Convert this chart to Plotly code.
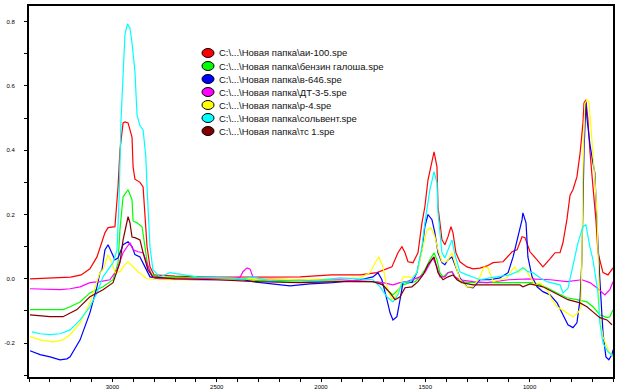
import plotly.graph_objects as go

# ---------------- data (wavenumber, cm-1  /  absorbance) ----------------
names = [
    "C:\\...\\Новая папка\\аи-100.spe",
    "C:\\...\\Новая папка\\бензин галоша.spe",
    "C:\\...\\Новая папка\\в-646.spe",
    "C:\\...\\Новая папка\\ДТ-3-5.spe",
    "C:\\...\\Новая папка\\р-4.spe",
    "C:\\...\\Новая папка\\сольвент.spe",
    "C:\\...\\Новая папка\\тс 1.spe",
]
colors = ["#FF0000", "#00FF00", "#0000FF", "#FF00FF", "#FFFF00", "#00FFFF", "#800000"]

red_wn = [3395, 3300, 3200, 3150, 3108, 3074, 3036, 3021, 2988, 2973, 2964, 2949, 2940, 2925, 2906, 2901,
          2892, 2868, 2853, 2834, 2820, 2800, 2700, 2500, 2300, 2100, 1950, 1813, 1732, 1660, 1631, 1612,
          1597, 1583, 1559, 1535, 1516, 1502, 1487, 1468, 1458, 1444, 1439, 1420, 1406, 1391, 1377, 1367,
          1353, 1334, 1300, 1271, 1238, 1204, 1175, 1127, 1084, 1060, 1036, 1022, 998, 964, 936, 902, 878,
          854, 840, 821, 806, 792, 773, 758, 744, 739, 730, 720, 711, 696, 682, 672, 648, 624, 600]
red_ab = [0.0, 0.003, 0.005, 0.012, 0.031, 0.068, 0.143, 0.159, 0.162, 0.286, 0.40, 0.485, 0.488, 0.485, 0.44, 0.348,
          0.31, 0.30, 0.286, 0.10, 0.037, 0.012, 0.008, 0.005, 0.005, 0.006, 0.012, 0.012, 0.019, 0.037, 0.081, 0.10,
          0.081, 0.053, 0.05, 0.081, 0.174, 0.224, 0.308, 0.37, 0.395, 0.348, 0.224, 0.121, 0.106, 0.131, 0.162, 0.143,
          0.081, 0.053, 0.037, 0.031, 0.033, 0.04, 0.05, 0.053, 0.084, 0.09, 0.131, 0.128, 0.084, 0.059, 0.037, 0.062, 0.081,
          0.081, 0.112, 0.184, 0.26, 0.277, 0.317, 0.39, 0.485, 0.547, 0.557, 0.495, 0.40, 0.286, 0.184, 0.081, 0.019, 0.012, 0.034]

green_wn = [3395, 3300, 3237, 3203, 3155, 3108, 3045, 2997, 2973, 2964, 2949, 2925, 2906, 2901, 2882, 2858,
            2844, 2830, 2810, 2772, 2600, 2400, 2300, 2100, 1909, 1751, 1717, 1684, 1655, 1631, 1607, 1573,
            1549, 1526, 1502, 1478, 1458, 1444, 1430, 1415, 1391, 1372, 1358, 1334, 1271, 1200, 1046, 984,
            950, 917, 868, 821, 773, 725, 696, 663, 629, 615, 600]
green_ab = [-0.096, -0.096, -0.096, -0.087, -0.072, -0.044, -0.025, -0.003, 0.05, 0.152, 0.255, 0.277, 0.246, 0.18, 0.174, 0.162,
            0.10, 0.037, 0.012, 0.005, 0.003, 0.0, -0.005, -0.006, -0.009, -0.009, -0.012, -0.034, -0.05, -0.034, -0.019, -0.012,
            -0.009, 0.006, 0.028, 0.059, 0.081, 0.059, 0.019, 0.006, 0.019, 0.022, 0.006, -0.009, -0.012, -0.012, -0.012, -0.012,
            -0.019, -0.028, -0.044, -0.059, -0.065, -0.072, -0.087, -0.112, -0.121, -0.118, -0.096]

blue_wn = [3395, 3347, 3299, 3251, 3218, 3203, 3155, 3108, 3074, 3060, 3050, 3036, 3021, 3002, 2988, 2973,
           2949, 2925, 2906, 2892, 2868, 2844, 2820, 2772, 2600, 2420, 2374, 2326, 2245, 2149, 2053, 1943,
           1813, 1751, 1727, 1708, 1684, 1669, 1655, 1636, 1621, 1607, 1583, 1564, 1540, 1516, 1502, 1487,
           1468, 1454, 1439, 1420, 1406, 1391, 1372, 1358, 1334, 1300, 1271, 1238, 1190, 1142, 1103, 1079,
           1056, 1036, 1032, 1017, 1008, 988, 964, 936, 902, 868, 840, 816, 792, 773, 758, 749, 739, 730,
           725, 711, 696, 687, 677, 672, 663, 648, 634, 620, 605, 600]
blue_ab = [-0.224, -0.236, -0.243, -0.252, -0.249, -0.243, -0.19, -0.106, -0.025, 0.019, 0.028, 0.09, 0.106, 0.081, 0.059, 0.065,
           0.106, 0.115, 0.10, 0.075, 0.068, 0.037, 0.006, 0.0, -0.003, -0.003, -0.003, -0.009, -0.016, -0.022, -0.016, -0.012,
           -0.003, 0.006, 0.019, -0.003, -0.065, -0.106, -0.128, -0.118, -0.065, -0.012, -0.009, -0.012, 0.019, 0.09, 0.162, 0.2,
           0.184, 0.143, 0.081, 0.05, 0.044, 0.059, 0.068, 0.044, 0.003, -0.025, -0.028, -0.003, -0.003, 0.003, 0.019, 0.068,
           0.13, 0.184, 0.205, 0.174, 0.068, 0.006, -0.025, -0.04, -0.05, -0.075, -0.112, -0.143, -0.152, -0.137, -0.065, 0.059, 0.40, 0.55,
           0.50, 0.42, 0.36, 0.33, 0.174, 0.10, -0.003, -0.168, -0.243, -0.252, -0.236, -0.221]

magenta_wn = [3395, 3300, 3250, 3203, 3155, 3108, 3060, 3012, 2978, 2949, 2916, 2901, 2877, 2853, 2834, 2810,
              2772, 2600, 2420, 2388, 2374, 2355, 2340, 2326, 2300, 2100, 1909, 1751, 1703, 1655, 1621, 1588,
              1559, 1526, 1502, 1478, 1463, 1444, 1430, 1406, 1391, 1372, 1358, 1334, 1271, 1204, 1100, 1000,
              900, 821, 749, 711, 677, 639, 615, 600]
magenta_ab = [-0.031, -0.034, -0.034, -0.031, -0.025, -0.012, -0.009, -0.003, 0.028, 0.081, 0.112, 0.09, 0.084, 0.081, 0.05, 0.006,
              0.0, 0.0, 0.0, 0.005, 0.022, 0.034, 0.03, 0.005, 0.0, -0.003, -0.003, -0.009, -0.012, -0.019, -0.012, -0.009,
              -0.003, 0.006, 0.019, 0.05, 0.065, 0.037, 0.006, 0.006, 0.019, 0.022, 0.006, -0.003, -0.009, -0.012, -0.003, 0.0,
              -0.003, -0.009, -0.003, -0.012, -0.028, -0.05, -0.034, -0.009]

yellow_wn = [3395, 3347, 3285, 3237, 3203, 3155, 3108, 3060, 3045, 3021, 3002, 2988, 2964, 2940, 2925, 2901,
             2877, 2858, 2834, 2786, 2600, 2400, 2300, 2100, 1909, 1813, 1765, 1741, 1722, 1703, 1684, 1660,
             1645, 1621, 1607, 1583, 1559, 1535, 1511, 1492, 1473, 1454, 1439, 1420, 1396, 1372, 1358, 1334,
             1300, 1271, 1238, 1218, 1199, 1175, 1142, 1108, 1084, 1070, 1056, 1036, 1022, 998, 974, 950,
             917, 892, 868, 845, 821, 792, 768, 754, 749, 744, 735, 725, 715, 701, 687, 677, 672, 663, 648, 624, 600]
yellow_ab = [-0.18, -0.19, -0.196, -0.19, -0.174, -0.137, -0.075, 0.019, 0.028, 0.075, 0.05, 0.019, 0.022, 0.044, 0.053, 0.037,
             0.022, 0.012, 0.0, -0.003, -0.003, 0.0, 0.0, -0.003, 0.0, 0.003, 0.019, 0.05, 0.068, 0.037, -0.025, -0.065,
             -0.056, -0.025, 0.006, 0.006, 0.003, 0.028, 0.10, 0.152, 0.159, 0.131, 0.09, 0.053, 0.053, 0.081, 0.05, -0.003,
             -0.025, -0.025, 0.006, 0.037, 0.034, -0.009, -0.003, 0.003, 0.028, 0.037, 0.019, 0.028, 0.034, 0.006, -0.019, -0.012,
             -0.034, -0.065, -0.087, -0.096, -0.106, -0.118, -0.106, -0.09, 0.06, 0.35, 0.545, 0.557, 0.55, 0.44, 0.31, 0.205, 0.059, -0.128, -0.18, -0.22, -0.243]

cyan_wn = [3386, 3347, 3299, 3251, 3203, 3155, 3108, 3074, 3045, 3012, 2997, 2978, 2968, 2959, 2949, 2940,
           2928, 2916, 2906, 2892, 2882, 2868, 2853, 2840, 2834, 2820, 2806, 2772, 2724, 2662, 2595, 2450,
           2374, 2326, 2245, 2149, 2053, 1909, 1813, 1751, 1717, 1684, 1655, 1631, 1612, 1573, 1540, 1516,
           1502, 1478, 1458, 1444, 1439, 1420, 1406, 1391, 1372, 1358, 1334, 1300, 1238, 1190, 1094, 1060,
           1032, 1008, 984, 950, 917, 854, 840, 816, 792, 768, 744, 730, 711, 696, 672, 663, 648, 624, 600]
cyan_ab = [-0.165, -0.171, -0.174, -0.171, -0.159, -0.128, -0.087, -0.044, 0.006, 0.037, 0.05, 0.09, 0.25, 0.49, 0.66, 0.76,
           0.793, 0.78, 0.734, 0.644, 0.51, 0.476, 0.463, 0.38, 0.286, 0.10, 0.028, 0.006, 0.019, 0.012, 0.006, 0.003,
           0.0, 0.006, -0.006, -0.012, -0.009, 0.003, 0.0, -0.003, -0.025, -0.056, -0.072, -0.05, -0.012, -0.009, 0.019, 0.10,
           0.174, 0.277, 0.333, 0.299, 0.205, 0.081, 0.065, 0.09, 0.121, 0.075, 0.022, 0.012, -0.003, 0.003, 0.012, 0.022,
           0.034, 0.022, 0.019, 0.003, -0.009, -0.019, -0.044, -0.03, 0.037, 0.112, 0.162, 0.168, 0.10, 0.059, -0.044, -0.137, -0.20, -0.227, -0.24]

darkred_wn = [3395, 3300, 3237, 3170, 3108, 3045, 2997, 2964, 2949, 2930, 2925, 2916, 2906, 2892, 2868, 2853,
              2830, 2806, 2700, 2500, 2300, 2100, 1909, 1751, 1703, 1669, 1645, 1621, 1597, 1564, 1535, 1511,
              1487, 1458, 1439, 1415, 1391, 1367, 1348, 1324, 1271, 1200, 1046, 1032, 998, 936, 888, 840,
              816, 758, 725, 696, 663, 629, 605]
darkred_ab = [-0.112, -0.118, -0.118, -0.096, -0.056, -0.034, -0.012, 0.05, 0.121, 0.184, 0.193, 0.174, 0.13, 0.128, 0.121, 0.081,
              0.028, 0.006, 0.0, -0.003, -0.009, -0.012, -0.009, -0.009, -0.019, -0.044, -0.065, -0.056, -0.028, -0.025, -0.009, 0.012,
              0.044, 0.068, 0.019, -0.003, 0.006, 0.012, -0.003, -0.012, -0.019, -0.019, -0.019, -0.025, -0.016, -0.025, -0.04, -0.056,
              -0.065, -0.075, -0.087, -0.103, -0.121, -0.128, -0.143]

x_tick_vals = [3000, 2500, 2000, 1500, 1000]
x_tick_text = ["3000", "2500", "2000", "1500", "1000"]
y_tick_vals = [0.8, 0.6, 0.4, 0.2, 0.0, -0.2]
y_tick_text = ["0.8", "0.6", "0.4", "0.2", "0.0", "-0.2"]

series = [(red_wn, red_ab), (green_wn, green_ab), (blue_wn, blue_ab), (magenta_wn, magenta_ab),
          (yellow_wn, yellow_ab), (cyan_wn, cyan_ab), (darkred_wn, darkred_ab)]

# ---------------- figure ----------------
W, H = 619, 391
ML, MR, MT, MB = 29, 6, 6, 14
PW, PH = W - ML - MR, H - MT - MB

fig = go.Figure()
for (wn, ab), name, col in zip(series, names, colors):
    fig.add_trace(go.Scatter(x=wn, y=ab, mode="lines", name=name,
                             line=dict(color=col, width=1.2), showlegend=False))

# hand-drawn legend (ellipse markers + text), positioned in pixels
def px2paper(px, py):
    return (px - ML) / PW, (H - MB - py) / PH

shapes, annots = [], []
for i, (name, col) in enumerate(zip(names, colors)):
    cy = 53 + 13 * i
    x0, y0 = px2paper(202, cy + 4.5)
    x1, y1 = px2paper(214, cy - 4.5)
    shapes.append(dict(type="circle", xref="paper", yref="paper", x0=x0, y0=y0, x1=x1, y1=y1,
                       fillcolor=col, line=dict(color="black", width=1)))
    tx, ty = px2paper(217, cy)
    annots.append(dict(xref="paper", yref="paper", x=tx, y=ty, xanchor="left", yanchor="middle",
                       text=name, showarrow=False, font=dict(family="Arial", size=9.5, color="#111")))

fig.update_layout(
    width=W, height=H,
    margin=dict(l=ML, r=MR, t=MT, b=MB, autoexpand=False),
    paper_bgcolor="white", plot_bgcolor="white",
    shapes=shapes, annotations=annots,
    showlegend=False,
    xaxis=dict(range=[3400, 600], showgrid=False, zeroline=False,
               showline=True, linecolor="black", linewidth=2, mirror=True,
               tickmode="array", tickvals=x_tick_vals, ticktext=x_tick_text,
               ticks="outside", ticklen=3, tickcolor="black", tickwidth=1,
               tickfont=dict(family="Arial", size=6, color="black"),
               minor=dict(tickmode="linear", tick0=0, dtick=100, ticks="outside", ticklen=3,
                          tickcolor="black", tickwidth=1)),
    yaxis=dict(range=[-0.3056, 0.8487], showgrid=False, zeroline=False,
               showline=True, linecolor="black", linewidth=2, mirror=True,
               tickmode="array", tickvals=y_tick_vals, ticktext=y_tick_text,
               ticks="outside", ticklen=3, tickcolor="black", tickwidth=1,
               ticklabelstandoff=8,
               tickfont=dict(family="Arial", size=6, color="black"),
               minor=dict(tickmode="linear", tick0=0, dtick=0.1, ticks="outside", ticklen=3,
                          tickcolor="black", tickwidth=1)),
)

fig.write_html("out.html", config={"displayModeBar": False},
               post_script="document.body.style.margin='0px';document.body.style.overflow='hidden';")
